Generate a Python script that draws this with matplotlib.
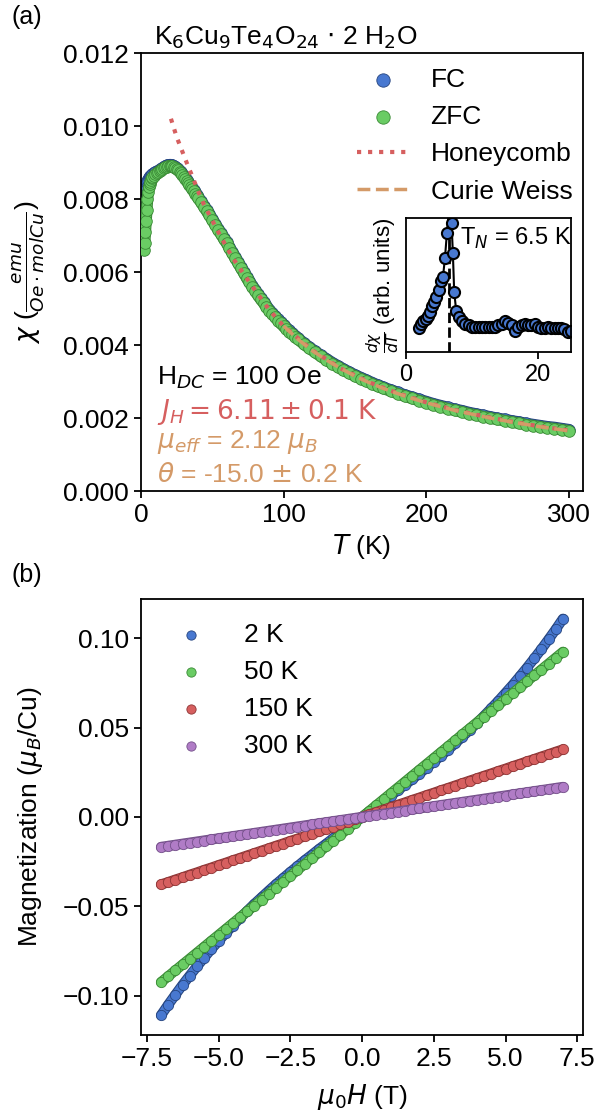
import numpy as np
import matplotlib.pyplot as plt
import matplotlib.patheffects as pe

plt.rcParams['font.family'] = ['Liberation Sans', 'DejaVu Sans']
plt.rcParams['mathtext.fontset'] = 'dejavusans'
plt.rcParams['axes.linewidth'] = 1.3

# chi(T) data, H_DC = 100 Oe
T = [2, 2.5, 3, 3.5, 4, 4.5, 5, 5.5, 6, 6.5, 7, 7.5, 8,
     9, 10, 11, 12, 13, 14, 15, 16, 17, 18, 19, 20, 21, 22, 23, 24, 25, 26, 27, 28, 29, 30,
     31, 32, 33, 34, 35, 36, 37, 38, 39, 40,
     42, 44, 46, 48, 50, 52, 54, 56, 58, 60, 62, 64, 66, 68, 70, 72, 74, 76, 78, 80,
     82, 84, 86, 88, 90, 92, 94, 96, 98, 100, 102, 104, 106, 108, 110,
     114, 118, 122, 126, 130, 134, 138, 142, 146, 150, 154, 158, 162, 166, 170,
     175, 180, 185, 190, 195, 200, 205, 210, 215, 220, 225, 230, 235, 240, 245, 250,
     255, 260, 265, 270, 275, 280, 285, 290, 295, 300]

chi_zfc = [0.00660, 0.00680, 0.00710, 0.00740, 0.00770, 0.00800, 0.00820, 0.00832, 0.00840, 0.00848, 0.00853, 0.00857, 0.00860,
           0.00864, 0.00868, 0.00871, 0.00874, 0.00877, 0.00880, 0.00882, 0.00885, 0.00887, 0.00889, 0.00890, 0.00891, 0.00891, 0.00890, 0.00888, 0.00886, 0.00883, 0.00879, 0.00875, 0.00870, 0.00866, 0.00861,
           0.00856, 0.00850, 0.00845, 0.00839, 0.00833, 0.00827, 0.00821, 0.00815, 0.00809, 0.00803,
           0.00791, 0.00779, 0.00767, 0.00755, 0.00742, 0.00729, 0.00716, 0.00704, 0.00691, 0.00679, 0.00665, 0.00652, 0.00638, 0.00625, 0.00611, 0.00598, 0.00584, 0.00572, 0.00560, 0.00548,
           0.00536, 0.00525, 0.00515, 0.00504, 0.00494, 0.00485, 0.00476, 0.00467, 0.00459, 0.00451, 0.00444, 0.00437, 0.00430, 0.00423, 0.00416,
           0.00403, 0.00391, 0.00380, 0.00369, 0.00359, 0.00349, 0.00340, 0.00331, 0.00323, 0.00315, 0.00308, 0.00301, 0.00294, 0.00287, 0.00281,
           0.00274, 0.00267, 0.00260, 0.00254, 0.00248, 0.00242, 0.00236, 0.00231, 0.00226, 0.00221, 0.00217, 0.00212, 0.00208, 0.00204, 0.00200, 0.00196,
           0.00193, 0.00189, 0.00186, 0.00182, 0.00179, 0.00176, 0.00173, 0.00171, 0.00168, 0.00165]

chi_fc = [0.00790, 0.00810, 0.00826, 0.00836, 0.00843, 0.00849, 0.00853, 0.00857, 0.00860, 0.00862, 0.00864, 0.00866, 0.00868,
          0.00871, 0.00874, 0.00875, 0.00878, 0.00880, 0.00883, 0.00885, 0.00888, 0.00890, 0.00892, 0.00893, 0.00894, 0.00894, 0.00893, 0.00891, 0.00889, 0.00886, 0.00882, 0.00878, 0.00873, 0.00869, 0.00864,
          0.00859, 0.00853, 0.00848, 0.00842, 0.00836, 0.00830, 0.00824, 0.00818, 0.00812, 0.00806,
          0.00794, 0.00782, 0.00770, 0.00758, 0.00745, 0.00732, 0.00719, 0.00707, 0.00694, 0.00682, 0.00668, 0.00655, 0.00641, 0.00628, 0.00614, 0.00601, 0.00587, 0.00575, 0.00563, 0.00551,
          0.00539, 0.00528, 0.00518, 0.00507, 0.00497, 0.00488, 0.00479, 0.00470, 0.00462, 0.00454, 0.00447, 0.00440, 0.00433, 0.00426, 0.00419,
          0.00406, 0.00394, 0.00383, 0.00372, 0.00362, 0.00352, 0.00343, 0.00334, 0.00326, 0.00318, 0.00311, 0.00304, 0.00297, 0.00290, 0.00284,
          0.00277, 0.00270, 0.00263, 0.00257, 0.00251, 0.00245, 0.00239, 0.00234, 0.00229, 0.00224, 0.00220, 0.00215, 0.00211, 0.00207, 0.00203, 0.00199,
          0.00196, 0.00192, 0.00189, 0.00185, 0.00182, 0.00179, 0.00176, 0.00174, 0.00171, 0.00168]

# fits
T_hc = [21, 23, 25, 28, 30, 33, 36, 40, 44, 50, 55, 60, 65, 70, 80, 90, 100, 120, 140, 160, 180, 200, 220, 240, 260, 280, 300]
chi_hc = [0.01020, 0.00995, 0.00970, 0.00940, 0.00920, 0.00890, 0.00862, 0.00822, 0.00786, 0.00741, 0.00704, 0.00668, 0.00635, 0.00606,
          0.00550, 0.00496, 0.00452, 0.00386, 0.00336, 0.00298, 0.00268, 0.00243, 0.00222, 0.00205, 0.00190, 0.00177, 0.00166]
T_cw = [100, 110, 120, 130, 140, 150, 160, 170, 180, 190, 200, 220, 240, 260, 280, 300]
chi_cw = [0.00452, 0.00416, 0.00385, 0.00359, 0.00336, 0.00315, 0.00297, 0.00281, 0.00267, 0.00254, 0.00242,
          0.00221, 0.00204, 0.00189, 0.00176, 0.00165]

# inset dchi/dT (arb. units)
T_in = [2.0, 2.3, 2.6, 3.0, 3.3, 3.6, 4.0, 4.3, 4.6, 5.0, 5.3, 5.6, 5.9, 6.2, 6.5, 6.7, 6.9, 7.1, 7.3, 7.6,
        8.0, 8.5, 9.0, 9.5, 10, 10.5, 11, 11.5, 12, 12.5, 13, 13.5, 14, 14.5, 15, 15.5, 16, 16.5, 17, 17.5,
        18, 18.5, 19, 19.5, 20, 20.5, 21, 21.5, 22, 22.5, 23, 23.5, 24, 24.5, 25]
d_in = [0.18, 0.21, 0.23, 0.25, 0.27, 0.30, 0.34, 0.37, 0.41, 0.46, 0.53, 0.56, 0.70, 0.89, 1.05, 1.20, 0.96, 0.74, 0.45, 0.31,
        0.26, 0.23, 0.21, 0.20, 0.19, 0.19, 0.185, 0.185, 0.19, 0.19, 0.19, 0.19, 0.20, 0.21, 0.23, 0.22, 0.20, 0.16, 0.19, 0.20,
        0.21, 0.20, 0.20, 0.21, 0.19, 0.18, 0.18, 0.19, 0.18, 0.18, 0.18, 0.18, 0.17, 0.15, 0.16]

# M(H)
H = [-7.0, -6.75, -6.5, -6.25, -6.0, -5.75, -5.5, -5.25, -5.0, -4.75, -4.5, -4.25, -4.0, -3.75,
     -3.5, -3.25, -3.0, -2.75, -2.5, -2.25, -2.0, -1.75, -1.5, -1.25, -1.0, -0.75, -0.5, -0.25, 0.0,
     0.25, 0.5, 0.75, 1.0, 1.25, 1.5, 1.75, 2.0, 2.25, 2.5, 2.75, 3.0, 3.25, 3.5,
     3.75, 4.0, 4.25, 4.5, 4.75, 5.0, 5.25, 5.5, 5.75, 6.0, 6.25, 6.5, 6.75, 7.0]
M_2K = [-0.1110, -0.1051, -0.0995, -0.0940, -0.0888, -0.0837, -0.0788, -0.0740, -0.0695, -0.0650, -0.0608, -0.0566, -0.0526, -0.0487,
        -0.0450, -0.0413, -0.0377, -0.0343, -0.0309, -0.0276, -0.0243, -0.0212, -0.0180, -0.0150, -0.0119, -0.0089, -0.0059, -0.0030, 0.0,
        0.0030, 0.0059, 0.0089, 0.0119, 0.0150, 0.0180, 0.0212, 0.0243, 0.0276, 0.0309, 0.0343, 0.0377, 0.0413, 0.0450,
        0.0487, 0.0526, 0.0566, 0.0608, 0.0650, 0.0695, 0.0740, 0.0788, 0.0837, 0.0888, 0.0940, 0.0995, 0.1051, 0.1110]
M_50K = [-0.0925, -0.0892, -0.0859, -0.0826, -0.0793, -0.0760, -0.0727, -0.0694, -0.0661, -0.0628, -0.0595, -0.0562, -0.0529, -0.0496,
         -0.0463, -0.0429, -0.0396, -0.0363, -0.0330, -0.0297, -0.0264, -0.0231, -0.0198, -0.0165, -0.0132, -0.0099, -0.0066, -0.0033, 0.0,
         0.0033, 0.0066, 0.0099, 0.0132, 0.0165, 0.0198, 0.0231, 0.0264, 0.0297, 0.0330, 0.0363, 0.0396, 0.0429, 0.0463,
         0.0496, 0.0529, 0.0562, 0.0595, 0.0628, 0.0661, 0.0694, 0.0727, 0.0760, 0.0793, 0.0826, 0.0859, 0.0892, 0.0925]
M_150K = [-0.0378, -0.0365, -0.0351, -0.0338, -0.0324, -0.0311, -0.0297, -0.0284, -0.0270, -0.0257, -0.0243, -0.0230, -0.0216, -0.0203,
          -0.0189, -0.0176, -0.0162, -0.0149, -0.0135, -0.0122, -0.0108, -0.0095, -0.0081, -0.0068, -0.0054, -0.0041, -0.0027, -0.0014, 0.0,
          0.0014, 0.0027, 0.0041, 0.0054, 0.0068, 0.0081, 0.0095, 0.0108, 0.0122, 0.0135, 0.0149, 0.0162, 0.0176, 0.0189,
          0.0203, 0.0216, 0.0230, 0.0243, 0.0257, 0.0270, 0.0284, 0.0297, 0.0311, 0.0324, 0.0338, 0.0351, 0.0365, 0.0378]
M_300K = [-0.0168, -0.0162, -0.0156, -0.0150, -0.0144, -0.0138, -0.0132, -0.0126, -0.0120, -0.0114, -0.0108, -0.0102, -0.0096, -0.0090,
          -0.0084, -0.0078, -0.0072, -0.0066, -0.0060, -0.0054, -0.0048, -0.0042, -0.0036, -0.0030, -0.0024, -0.0018, -0.0012, -0.0006, 0.0,
          0.0006, 0.0012, 0.0018, 0.0024, 0.0030, 0.0036, 0.0042, 0.0048, 0.0054, 0.0060, 0.0066, 0.0072, 0.0078, 0.0084,
          0.0090, 0.0096, 0.0102, 0.0108, 0.0114, 0.0120, 0.0126, 0.0132, 0.0138, 0.0144, 0.0150, 0.0156, 0.0162, 0.0168]

blue, blue_e = '#4878d0', '#26457f'
green, green_e = '#6acc64', '#3a8a35'
red, red_e = '#d65f5f', '#8e3535'
purple, purple_e = '#b07cc6', '#74508a'
tan = '#d49a68'

FS = 19


def dense(ax, x, y, face, edge, s, label, z):
    # measured points are very dense: band under the markers
    w = np.sqrt(s)
    ax.plot(x, y, '-', color=face, lw=w - 1.5, solid_capstyle='round', zorder=z,
            path_effects=[pe.Stroke(linewidth=w, foreground=edge), pe.Normal()])
    ax.scatter(x, y, s=s, color=face, edgecolors=edge, linewidths=0.6, label=label, zorder=z + 0.5)


fig = plt.figure(figsize=(5.94, 11.19), dpi=100)

# ---- (a) susceptibility
ax1 = fig.add_axes([0.2374, 0.5612, 0.7441, 0.3914])
dense(ax1, T, chi_fc, blue, blue_e, 70, 'FC', 2)
dense(ax1, T, chi_zfc, green, green_e, 70, 'ZFC', 3)
ax1.plot(T_hc, chi_hc, ':', color=red, lw=3, label='Honeycomb', zorder=5)
ax1.plot(T_cw, chi_cw, '--', color=tan, lw=2.5, label='Curie Weiss', zorder=5)
ax1.set_xlim(0, 310)
ax1.set_ylim(0, 0.012)
ax1.set_xticks([0, 100, 200, 300])
ax1.set_yticks([0.0, 0.002, 0.004, 0.006, 0.008, 0.010, 0.012])
ax1.tick_params(labelsize=FS, length=5, width=1.3)
ax1.set_xlabel('$T$ (K)', fontsize=FS)
ax1.set_ylabel(r'$\chi$ ($\frac{emu}{Oe \cdot molCu}$)', fontsize=FS, labelpad=12)
ax1.legend(loc='upper left', bbox_to_anchor=(0.464, 0.99), frameon=False, fontsize=FS,
           markerscale=1.15, labelspacing=0.5, borderaxespad=0)

ax1.text(0.036, 0.258, 'H$_{DC}$ = 100 Oe', transform=ax1.transAxes, fontsize=FS, va='center')
ax1.text(0.036, 0.180, r'$J_H = 6.11 \pm 0.1$ K', transform=ax1.transAxes, fontsize=FS, va='center',
         color=red, family='DejaVu Sans')
ax1.text(0.036, 0.112, r'$\mu_{eff}$ = 2.12 $\mu_B$', transform=ax1.transAxes, fontsize=FS, va='center',
         color=tan)
ax1.text(0.036, 0.037, r'$\theta$ = -15.0 $\pm$ 0.2 K', transform=ax1.transAxes, fontsize=FS, va='center',
         color=tan)
fig.text(0.26, 0.966, r'K$_6$Cu$_9$Te$_4$O$_{24}$ $\cdot$ 2 H$_2$O', fontsize=19, va='center')
fig.text(0.02, 0.985, '(a)', fontsize=18, va='center')

# inset
axin = fig.add_axes([0.6835, 0.6854, 0.2778, 0.1197])
axin.plot(T_in, d_in, '-', color='k', lw=1.5, zorder=1)
axin.plot(T_in, d_in, 'o', mfc=blue, mec='k', mew=1.5, ms=8, zorder=2)
axin.axvline(6.5, color='k', ls='--', lw=2, zorder=0)
axin.set_xlim(0, 25)
axin.set_ylim(0, 1)
axin.set_xticks([0, 20])
axin.set_yticks([])
axin.tick_params(labelsize=17, length=5, width=1.3)
axin.set_ylabel(r'$\frac{d\chi}{dT}$ (arb. units)', fontsize=16, labelpad=3)
axin.text(0.33, 0.85, 'T$_N$ = 6.5 K', transform=axin.transAxes, fontsize=17, va='center')

# ---- (b) magnetization
ax2 = fig.add_axes([0.2374, 0.0751, 0.7441, 0.3896])
dense(ax2, H, M_2K, blue, blue_e, 55, '2 K', 2)
dense(ax2, H, M_50K, green, green_e, 55, '50 K', 3)
dense(ax2, H, M_150K, red, red_e, 55, '150 K', 4)
dense(ax2, H, M_300K, purple, purple_e, 55, '300 K', 5)
ax2.set_xticks([-7.5, -5.0, -2.5, 0.0, 2.5, 5.0, 7.5])
ax2.tick_params(labelsize=FS, length=5, width=1.3)
ax2.set_xlabel(r'$\mu_0H$ (T)', fontsize=FS, labelpad=8)
ax2.set_ylabel(r'Magnetization ($\mu_B$/Cu)', fontsize=FS, labelpad=13)
handles, labels = ax2.get_legend_handles_labels()
ax2.legend(handles[-4:], labels[-4:], loc='upper left', frameon=False, fontsize=FS,
           markerscale=0.9, labelspacing=0.5, handletextpad=1.0)
fig.text(0.02, 0.486, '(b)', fontsize=18, va='center')

fig.savefig('out.png', dpi=100)
